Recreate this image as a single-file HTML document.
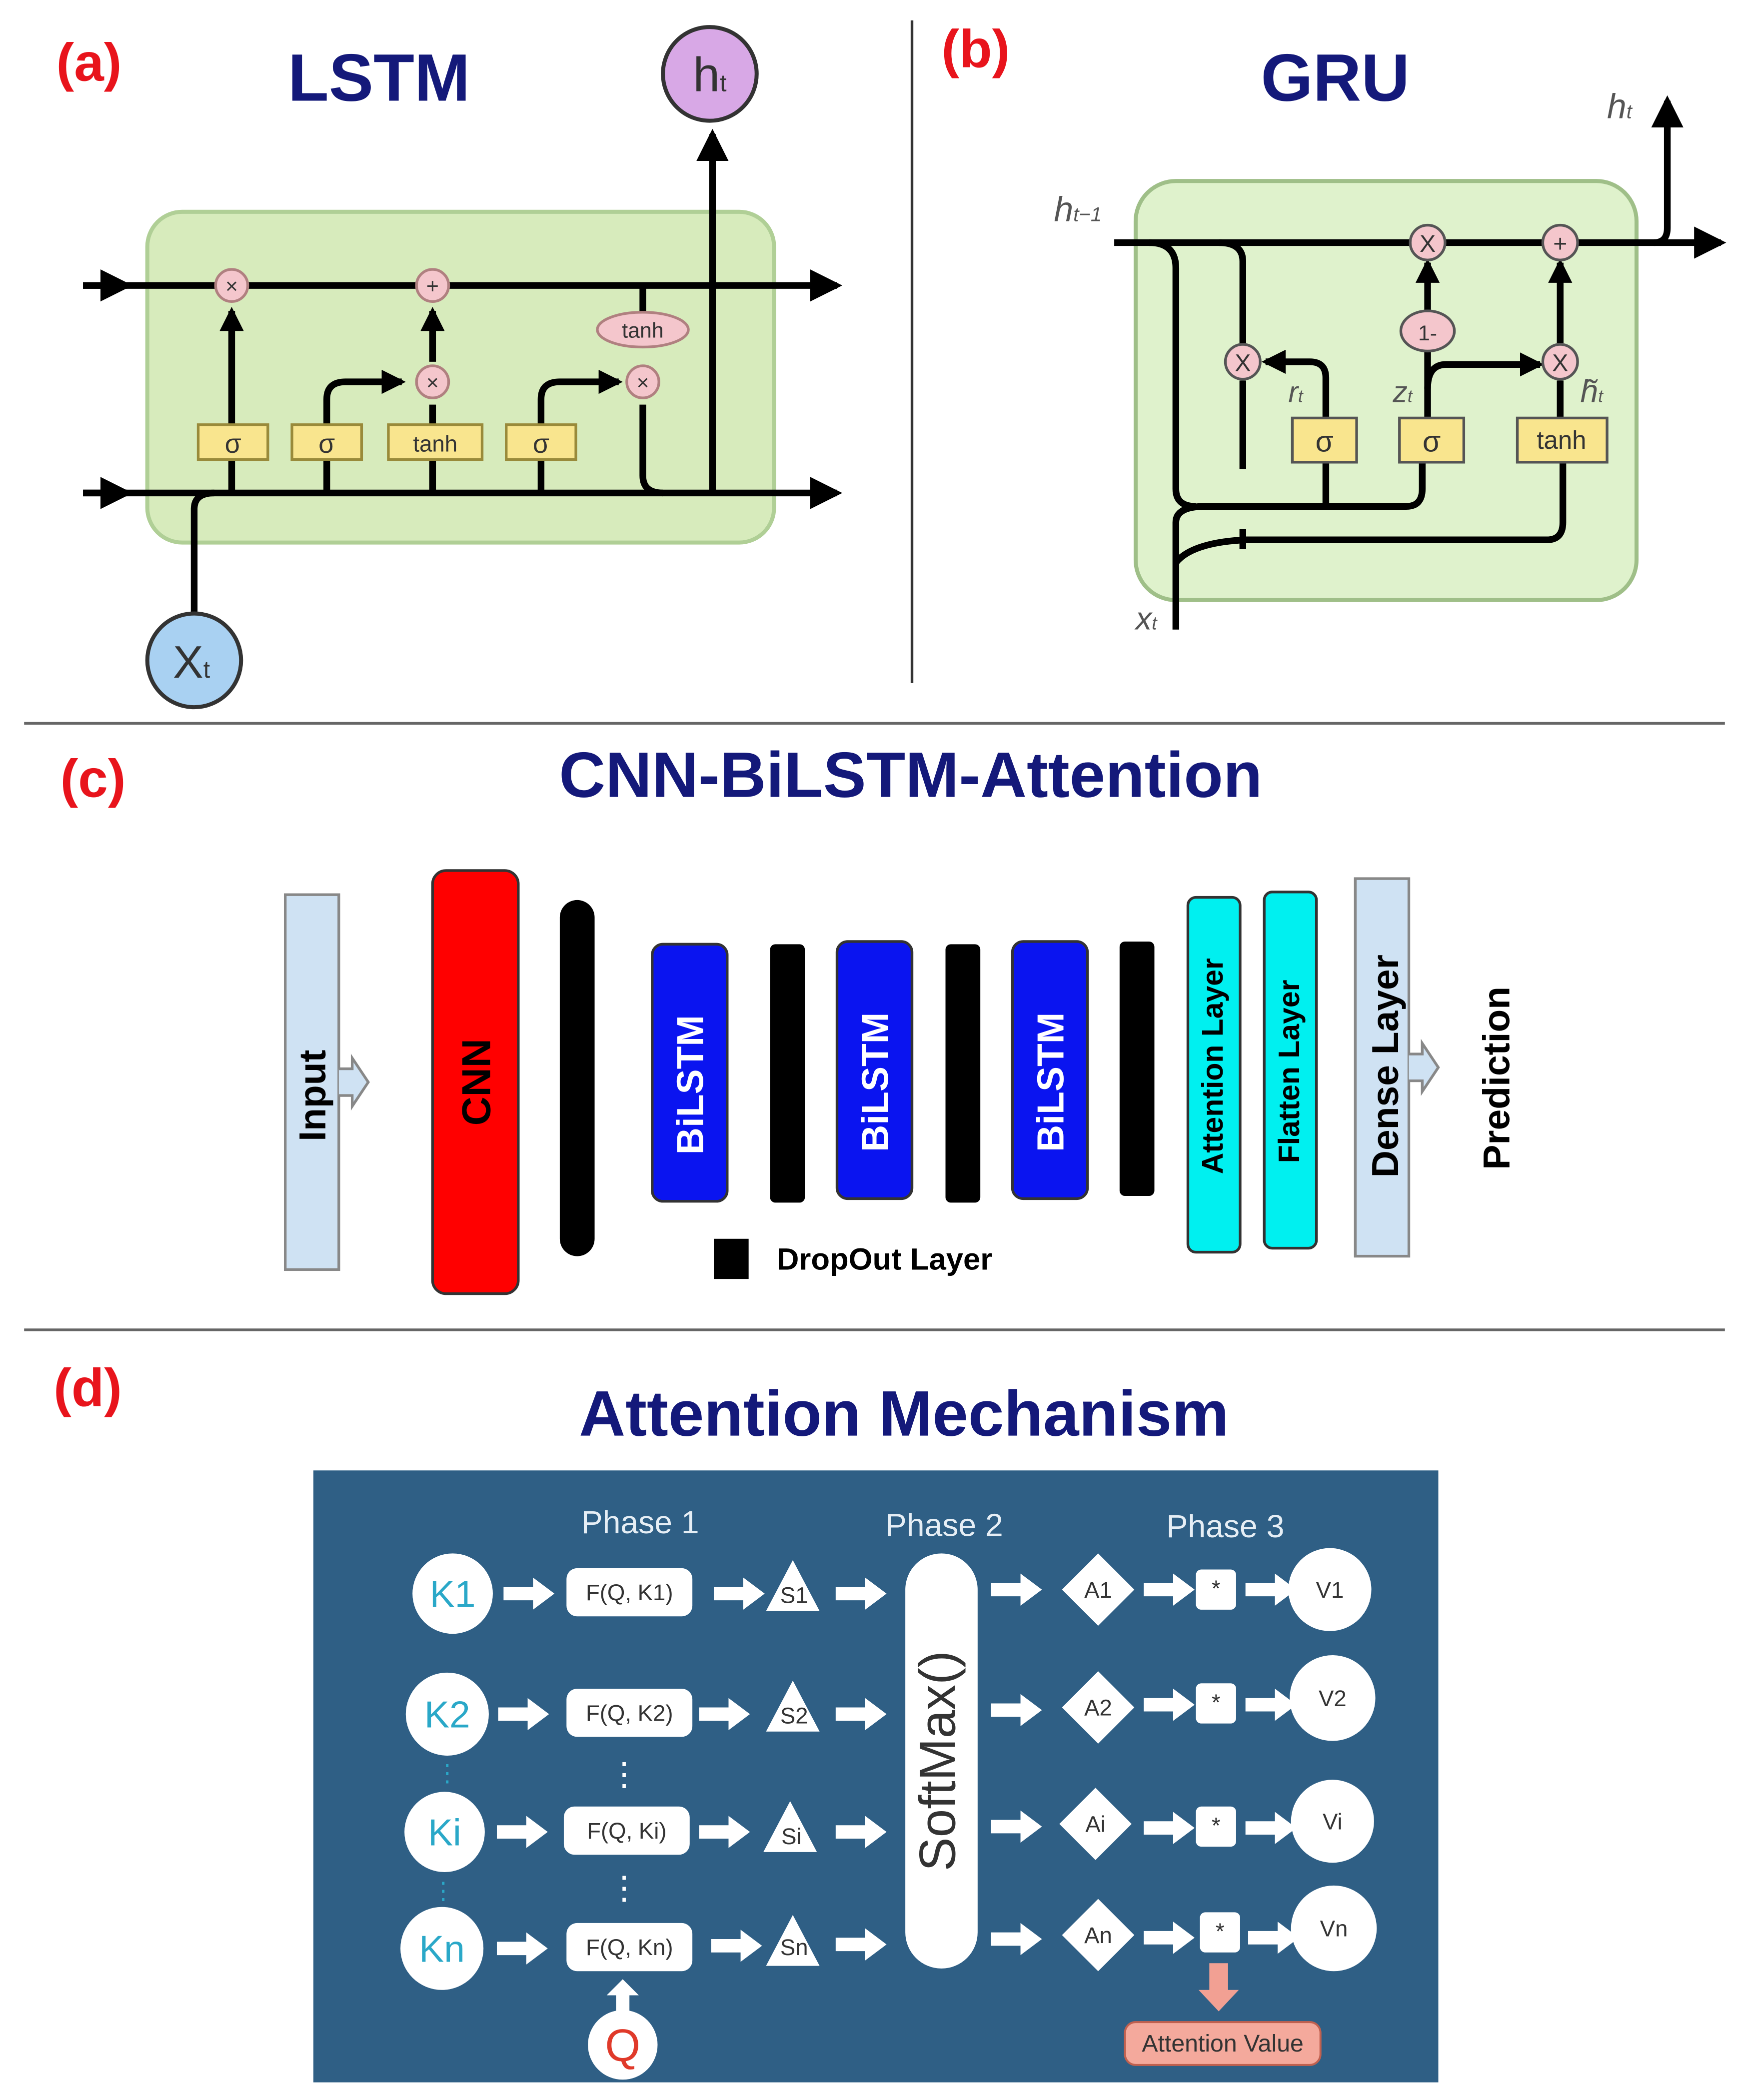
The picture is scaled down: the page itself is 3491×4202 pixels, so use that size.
<!DOCTYPE html>
<html><head><meta charset="utf-8"><style>
html,body{margin:0;padding:0;background:#fff;}
svg{display:block;}
text{font-family:"Liberation Sans",sans-serif;}
</style></head><body>
<svg width="3491" height="4202" viewBox="0 0 1303 1568" xmlns="http://www.w3.org/2000/svg">
<defs>
<marker id="ab" markerWidth="24" markerHeight="24" refX="20" refY="12" orient="auto" markerUnits="userSpaceOnUse"><path d="M0,0 L24,12 L0,24 z" fill="#000"/></marker>
<marker id="am" markerWidth="18" markerHeight="18" refX="15" refY="9" orient="auto" markerUnits="userSpaceOnUse"><path d="M0,0 L18,9 L0,18 z" fill="#000"/></marker>
</defs>
<rect width="1303" height="1568" fill="#fff"/>

<!-- (a) LSTM -->
<text x="42" y="60" font-size="40" font-weight="bold" fill="#e8141c">(a)</text>
<text x="283" y="75" font-size="50" font-weight="bold" fill="#14197a" text-anchor="middle">LSTM</text>
<rect x="110" y="158" width="468" height="247" rx="26" fill="#d7ebbc" stroke="#b0cf96" stroke-width="3"/>
<g stroke="#000" stroke-width="5" fill="none">
<line x1="62" y1="213" x2="625" y2="213" marker-end="url(#ab)"/>
<line x1="62" y1="368" x2="625" y2="368" marker-end="url(#ab)"/>
<line x1="62" y1="213" x2="95" y2="213" marker-end="url(#ab)"/>
<line x1="62" y1="368" x2="95" y2="368" marker-end="url(#ab)"/>
<path d="M145,460 L145,380 Q145,368 160,368"/>
<line x1="173" y1="368" x2="173" y2="232" marker-end="url(#am)"/>
<path d="M244,368 L244,298 Q244,285 258,285 L300,285" marker-end="url(#am)"/>
<line x1="323" y1="368" x2="323" y2="302"/>
<line x1="323" y1="270" x2="323" y2="232" marker-end="url(#am)"/>
<path d="M404,368 L404,298 Q404,285 418,285 L462,285" marker-end="url(#am)"/>
<line x1="480" y1="213" x2="480" y2="234"/>
<path d="M480,302 L480,355 Q480,368 495,368"/>
<line x1="532" y1="368" x2="532" y2="100" marker-end="url(#ab)"/>
</g>
<g stroke="#b08080" stroke-width="2" fill="#f4c6cc">
<circle cx="173" cy="213" r="12"/><circle cx="323" cy="213" r="12"/>
<circle cx="323" cy="285" r="12"/><circle cx="480" cy="285" r="12"/>
<ellipse cx="480" cy="246" rx="34" ry="13"/>
</g>
<g font-size="16" text-anchor="middle" fill="#333">
<text x="173" y="219">×</text><text x="323" y="219">+</text><text x="323" y="291">×</text><text x="480" y="291">×</text><text x="480" y="252">tanh</text>
</g>
<g fill="#f9e58e" stroke="#998a3a" stroke-width="2">
<rect x="148" y="317" width="52" height="26"/><rect x="218" y="317" width="52" height="26"/>
<rect x="290" y="317" width="70" height="26"/><rect x="378" y="317" width="52" height="26"/>
</g>
<g font-size="20" text-anchor="middle" fill="#333">
<text x="174" y="338">σ</text><text x="244" y="338">σ</text><text x="325" y="337" font-size="17">tanh</text><text x="404" y="338">σ</text>
</g>
<circle cx="530" cy="55" r="35" fill="#d8a8e6" stroke="#333" stroke-width="3"/>
<text x="530" y="68" font-size="36" text-anchor="middle" fill="#333">h<tspan font-size="18">t</tspan></text>
<circle cx="145" cy="493" r="35" fill="#a9d1f2" stroke="#333" stroke-width="3"/>
<text x="143" y="506" font-size="34" text-anchor="middle" fill="#333">X<tspan font-size="18">t</tspan></text>

<line x1="681" y1="15" x2="681" y2="510" stroke="#333" stroke-width="2"/>

<!-- (b) GRU -->
<text x="703" y="50" font-size="40" font-weight="bold" fill="#e8141c">(b)</text>
<text x="997" y="75" font-size="50" font-weight="bold" fill="#14197a" text-anchor="middle">GRU</text>
<rect x="848" y="135" width="374" height="313" rx="30" fill="#dff2cc" stroke="#9fbf88" stroke-width="3"/>
<g stroke="#000" stroke-width="5" fill="none">
<line x1="832" y1="181" x2="1285" y2="181" marker-end="url(#ab)"/>
<path d="M1235,181 Q1245,181 1245,170 L1245,75" marker-end="url(#ab)"/>
<path d="M858,181 Q878,181 878,200 L878,365 Q878,378 893,378"/>
<path d="M878,470 L878,390 Q878,378 900,378 L1050,378 Q1062,378 1062,365 L1062,345"/>
<line x1="990" y1="378" x2="990" y2="345"/>
<path d="M878,420 Q890,405 930,403 L1155,403 Q1167,403 1167,390 L1167,345"/>
<path d="M910,181 Q928,181 928,195 L928,258"/>
<line x1="928" y1="284" x2="928" y2="350"/>
<line x1="928" y1="395" x2="928" y2="410"/>
<path d="M990,312 L990,282 Q990,270 978,270 L945,270" marker-end="url(#am)"/>
<line x1="1066" y1="312" x2="1066" y2="262"/>
<line x1="1066" y1="232" x2="1066" y2="196" marker-end="url(#am)"/>
<path d="M1066,290 Q1066,272 1080,272 L1150,272" marker-end="url(#am)"/>
<line x1="1165" y1="312" x2="1165" y2="284"/>
<line x1="1165" y1="256" x2="1165" y2="196" marker-end="url(#am)"/>
</g>
<g stroke="#555" stroke-width="2" fill="#f4c6cc">
<circle cx="1066" cy="181" r="13"/><circle cx="1165" cy="181" r="13"/>
<circle cx="928" cy="270" r="13"/><circle cx="1165" cy="270" r="13"/>
<ellipse cx="1066" cy="247" rx="20" ry="15"/>
</g>
<g font-size="18" text-anchor="middle" fill="#333">
<text x="1066" y="188">X</text><text x="1165" y="188">+</text><text x="928" y="277">X</text><text x="1165" y="277">X</text><text x="1066" y="254" font-size="16">1-</text>
</g>
<g fill="#f9e58e" stroke="#555" stroke-width="2">
<rect x="965" y="312" width="48" height="33"/><rect x="1045" y="312" width="48" height="33"/><rect x="1133" y="312" width="67" height="33"/>
</g>
<g font-size="22" text-anchor="middle" fill="#333">
<text x="989" y="337">σ</text><text x="1069" y="337">σ</text><text x="1166" y="335" font-size="19">tanh</text>
</g>
<g font-family="Liberation Serif" font-style="italic" fill="#555">
<text x="787" y="165" font-size="26">h<tspan font-size="15">t−1</tspan></text>
<text x="1200" y="88" font-size="26">h<tspan font-size="15">t</tspan></text>
<text x="848" y="470" font-size="24">x<tspan font-size="14">t</tspan></text>
<text x="962" y="300" font-size="22">r<tspan font-size="13">t</tspan></text>
<text x="1040" y="300" font-size="22">z<tspan font-size="13">t</tspan></text>
<text x="1180" y="300" font-size="24">h̃<tspan font-size="13">t</tspan></text>
</g>

<line x1="18" y1="540" x2="1288" y2="540" stroke="#666" stroke-width="2"/>

<!-- (c) -->
<text x="45" y="595" font-size="40" font-weight="bold" fill="#e8141c">(c)</text>
<text x="680" y="595" font-size="48" font-weight="bold" fill="#14197a" text-anchor="middle">CNN-BiLSTM-Attention</text>
<rect x="213" y="668" width="40" height="280" fill="#cfe2f3" stroke="#888" stroke-width="2"/>
<path d="M253,798 L263,798 L263,790 L275,808 L263,826 L263,818 L253,818" fill="#cfe2f3" stroke="#888" stroke-width="2"/>
<text transform="translate(243,818) rotate(-90)" font-size="28" font-weight="bold" text-anchor="middle">Input</text>
<rect x="323" y="650" width="64" height="316" rx="10" fill="#f00" stroke="#333" stroke-width="2"/>
<text transform="translate(366,808) rotate(-90)" font-size="30" font-weight="bold" text-anchor="middle">CNN</text>
<rect x="418" y="672" width="26" height="266" rx="13" fill="#000"/>
<rect x="575" y="705" width="26" height="193" rx="4" fill="#000"/>
<rect x="706" y="705" width="26" height="193" rx="4" fill="#000"/>
<rect x="836" y="703" width="26" height="190" rx="4" fill="#000"/>
<g fill="#0a14f0" stroke="#333" stroke-width="2">
<rect x="487" y="705" width="56" height="192" rx="8"/><rect x="625" y="703" width="56" height="192" rx="8"/><rect x="756" y="703" width="56" height="192" rx="8"/>
</g>
<g font-size="28" font-weight="bold" fill="#fff" text-anchor="middle">
<text transform="translate(525,810) rotate(-90)">BiLSTM</text>
<text transform="translate(663,808) rotate(-90)">BiLSTM</text>
<text transform="translate(794,808) rotate(-90)">BiLSTM</text>
</g>
<rect x="887" y="670" width="39" height="265" rx="6" fill="#00f0f0" stroke="#333" stroke-width="2"/>
<rect x="944" y="666" width="39" height="266" rx="6" fill="#00f0f0" stroke="#333" stroke-width="2"/>
<text transform="translate(913,796) rotate(-90)" font-size="22" font-weight="bold" text-anchor="middle">Attention Layer</text>
<text transform="translate(970,800) rotate(-90)" font-size="22" font-weight="bold" text-anchor="middle">Flatten Layer</text>
<rect x="1012" y="656" width="40" height="282" fill="#cfe2f3" stroke="#888" stroke-width="2"/>
<path d="M1052,787 L1062,787 L1062,779 L1074,797 L1062,815 L1062,807 L1052,807" fill="#cfe2f3" stroke="#888" stroke-width="2"/>
<text transform="translate(1044,796) rotate(-90)" font-size="28" font-weight="bold" text-anchor="middle">Dense Layer</text>
<text transform="translate(1127,805) rotate(-90)" font-size="28" font-weight="bold" text-anchor="middle">Prediction</text>
<rect x="533" y="925" width="26" height="30" fill="#000"/>
<text x="580" y="948" font-size="23" font-weight="bold">DropOut Layer</text>

<line x1="18" y1="993" x2="1288" y2="993" stroke="#666" stroke-width="2"/>

<!-- (d) -->
<text x="40" y="1050" font-size="40" font-weight="bold" fill="#e8141c">(d)</text>
<text x="675" y="1072" font-size="48" font-weight="bold" fill="#14197a" text-anchor="middle">Attention Mechanism</text>
<rect x="234" y="1098" width="840" height="457" fill="#2f5f85"/>
<g font-size="24" fill="#e6eef5" text-anchor="middle">
<text x="478" y="1145">Phase 1</text><text x="705" y="1147">Phase 2</text><text x="915" y="1148">Phase 3</text>
</g>
<rect x="676" y="1160" width="54" height="310" rx="27" fill="#fff"/>
<text transform="translate(713,1315) rotate(-90)" font-size="38" fill="#333" text-anchor="middle">SoftMax()</text>
<g fill="#fff">
<circle cx="338" cy="1190" r="30"/><circle cx="334" cy="1280" r="31"/><circle cx="332" cy="1368" r="30"/><circle cx="330" cy="1455" r="31"/>
<rect x="423" y="1171" width="94" height="36" rx="8"/><rect x="423" y="1261" width="94" height="36" rx="8"/><rect x="421" y="1349" width="94" height="36" rx="8"/><rect x="423" y="1436" width="94" height="36" rx="8"/>
<path d="M592,1165 L612,1203 L572,1203 z"/><path d="M592,1255 L612,1293 L572,1293 z"/><path d="M590,1345 L610,1383 L570,1383 z"/><path d="M592,1430 L612,1468 L572,1468 z"/>
<path d="M820,1160 L847,1187 L820,1214 L793,1187 z"/><path d="M820,1248 L847,1275 L820,1302 L793,1275 z"/><path d="M818,1335 L845,1362 L818,1389 L791,1362 z"/><path d="M820,1418 L847,1445 L820,1472 L793,1445 z"/>
<rect x="893" y="1172" width="30" height="30" rx="4"/><rect x="893" y="1257" width="30" height="30" rx="4"/><rect x="893" y="1349" width="30" height="30" rx="4"/><rect x="896" y="1428" width="30" height="30" rx="4"/>
<circle cx="993" cy="1187" r="31"/><circle cx="995" cy="1268" r="32"/><circle cx="995" cy="1360" r="31"/><circle cx="996" cy="1440" r="32"/>
</g>
<g font-size="28" fill="#2aa8c8" text-anchor="middle">
<text x="338" y="1200">K1</text><text x="334" y="1290">K2</text><text x="332" y="1378">Ki</text><text x="330" y="1465">Kn</text>
</g>
<g font-size="17" fill="#333" text-anchor="middle">
<text x="470" y="1195">F(Q, K1)</text><text x="470" y="1285">F(Q, K2)</text><text x="468" y="1373">F(Q, Ki)</text><text x="470" y="1460">F(Q, Kn)</text>
<text x="593" y="1197">S1</text><text x="593" y="1287">S2</text><text x="591" y="1377">Si</text><text x="593" y="1460">Sn</text>
<text x="820" y="1193">A1</text><text x="820" y="1281">A2</text><text x="818" y="1368">Ai</text><text x="820" y="1451">An</text>
<text x="908" y="1192">*</text><text x="908" y="1277">*</text><text x="908" y="1369">*</text><text x="911" y="1448">*</text>
<text x="993" y="1193">V1</text><text x="995" y="1274">V2</text><text x="995" y="1366">Vi</text><text x="996" y="1446">Vn</text>
</g>
<g fill="#fff" font-size="24" text-anchor="middle">
<text x="466" y="1333">⋮</text><text x="466" y="1418">⋮</text>
</g>
<g fill="#2aa8c8" font-size="18" text-anchor="middle"><text x="334" y="1330">⋮</text><text x="331" y="1418">⋮</text></g>
<g fill="#fff">
<path id="wa" d="M0,-5 L22,-5 L22,-12 L38,0 L22,12 L22,5 L0,5 z" transform="translate(376,1190)"/>
<use href="#wa" transform="translate(-4,90)"/><use href="#wa" transform="translate(-5,178)"/><use href="#wa" transform="translate(-5,265)"/>
<use href="#wa" transform="translate(157,0)"/><use href="#wa" transform="translate(146,90)"/><use href="#wa" transform="translate(146,178)"/><use href="#wa" transform="translate(155,263)"/>
<use href="#wa" transform="translate(248,0)"/><use href="#wa" transform="translate(248,90)"/><use href="#wa" transform="translate(248,178)"/><use href="#wa" transform="translate(248,262)"/>
<use href="#wa" transform="translate(364,-3)"/><use href="#wa" transform="translate(364,87)"/><use href="#wa" transform="translate(364,174)"/><use href="#wa" transform="translate(364,258)"/>
<use href="#wa" transform="translate(478,-3)"/><use href="#wa" transform="translate(478,83)"/><use href="#wa" transform="translate(478,175)"/><use href="#wa" transform="translate(478,257)"/>
<use href="#wa" transform="translate(554,-3)"/><use href="#wa" transform="translate(554,83)"/><use href="#wa" transform="translate(554,175)"/><use href="#wa" transform="translate(556,257)"/>
<path d="M460,1502 L460,1490 L453,1490 L465,1478 L477,1490 L470,1490 L470,1502 z"/>
</g>
<circle cx="465" cy="1527" r="26" fill="#fff"/>
<text x="465" y="1539" font-size="34" fill="#e03a2a" text-anchor="middle">Q</text>
<path d="M903,1466 L917,1466 L917,1486 L925,1486 L910,1502 L895,1486 L903,1486 z" fill="#f2a093"/>
<rect x="840" y="1510" width="146" height="32" rx="8" fill="#f4a99c" stroke="#c0604f" stroke-width="1.5"/>
<text x="913" y="1532" font-size="18" fill="#333" text-anchor="middle">Attention Value</text>
</svg>
</body></html>
